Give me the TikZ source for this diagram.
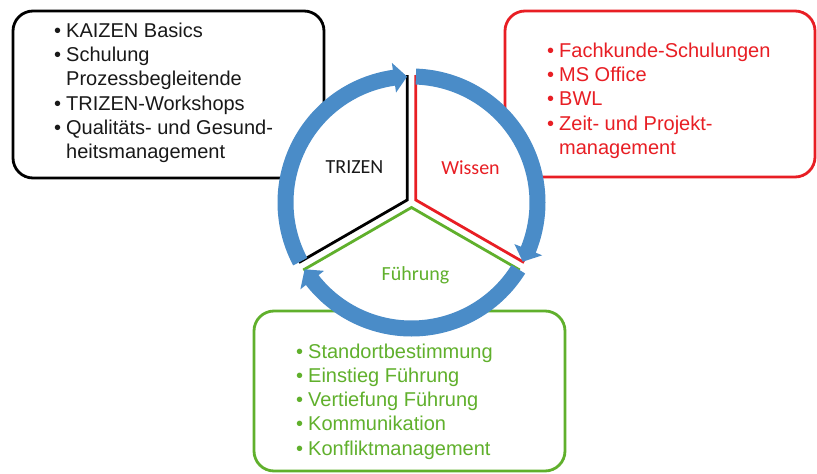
\documentclass[tikz,border=0pt]{standalone}
\usepackage{fontspec}
\setmainfont{Liberation Sans}
\newfontfamily\calib{Carlito}
\usetikzlibrary{calc}

\definecolor{ringblue}{RGB}{74,140,200}
\definecolor{wred}{RGB}{232,30,36}
\definecolor{fgreen}{RGB}{96,176,44}
\definecolor{tblack}{RGB}{25,25,25}

% bullet with hanging indent, and the indent for continuation lines
\newcommand{\bul}{\makebox[12pt][l]{\textbullet}}
\newcommand{\ind}{\hspace*{12pt}}

% one blue circular arrow: tail angle, tip angle, angle of the head base
\newcommand{\ringarrow}[3]{%
  \fill[ringblue] (#1:134) arc[start angle=#1, end angle=#3, radius=134]
    -- (#3:141) -- (#2:126) -- (#3:111) -- (#3:118)
    arc[start angle=#3, end angle=#1, radius=118] -- cycle;}

\begin{document}
\begin{tikzpicture}[x=1pt,y=-1pt,
  listbox/.style={draw=#1, line width=2.8pt, rounded corners=20pt, inner sep=0pt},
  listtext/.style={anchor=base west, inner sep=0pt, text=#1,
    font=\fontsize{20}{24.2}\selectfont},
  secline/.style={draw=#1, line width=2.8pt},
  seclabel/.style={anchor=base, inner sep=0pt, text=#1,
    font=\calib\fontsize{20}{24}\selectfont}]

\path[use as bounding box, fill=white] (0,0) rectangle (817,474);

% the three list boxes
\node[listbox=black, minimum width=311pt, minimum height=167pt] (boxT) at (168.5,94.5) {};
\node[listbox=wred, minimum width=310pt, minimum height=166pt] (boxW) at (660,94) {};
\node[listbox=fgreen, minimum width=311pt, minimum height=160pt] (boxF) at (409.5,391) {};

\node[listtext=tblack] (listT) at (54,37.5) {\begin{tabular}[t]{@{}l@{}}
  \bul KAIZEN Basics\\
  \bul Schulung\\
  \ind Prozessbegleitende\\
  \bul TRIZEN-Workshops\\
  \bul Qualitäts- und Gesund-\\
  \ind heitsmanagement
\end{tabular}};

\node[listtext=wred] (listW) at (547,57.5) {\begin{tabular}[t]{@{}l@{}}
  \bul Fachkunde-Schulungen\\
  \bul MS Office\\
  \bul BWL\\
  \bul Zeit- und Projekt-\\
  \ind management
\end{tabular}};

\node[listtext=fgreen] (listF) at (296,358.3) {\begin{tabular}[t]{@{}l@{}}
  \bul Standortbestimmung\\
  \bul Einstieg Führung\\
  \bul Vertiefung Führung\\
  \bul Kommunikation\\
  \bul Konfliktmanagement
\end{tabular}};

% the cycle: white disc, three slightly separated sectors, blue arrows
\coordinate (C) at (411.5,202.5);
\begin{scope}[shift={(C)}, yscale=-1]
  \fill[white] (0,0) circle[radius=124];

  \coordinate (apexT) at (150:5);
  \coordinate (apexW) at (30:5);
  \coordinate (apexF) at (270:5);
  \draw[secline=black] ($(apexT)+(90:125)$) -- (apexT) -- ($(apexT)+(210:125)$);
  \draw[secline=wred] ($(apexW)+(90:125)$) -- (apexW) -- ($(apexW)+(-30:125)$);
  \draw[secline=fgreen] ($(apexF)+(210:125)$) -- (apexF) -- ($(apexF)+(-30:125)$);

  \ringarrow{208}{92}{98}
  \ringarrow{88}{-28}{-22}
  \ringarrow{-32}{-148}{-142}
\end{scope}

\node[seclabel=tblack] (lblT) at (354.5,173.5) {TRIZEN};
\node[seclabel=wred] (lblW) at (470.5,174) {Wissen};
\node[seclabel=fgreen] (lblF) at (415.5,280) {Führung};

\end{tikzpicture}
\end{document}
